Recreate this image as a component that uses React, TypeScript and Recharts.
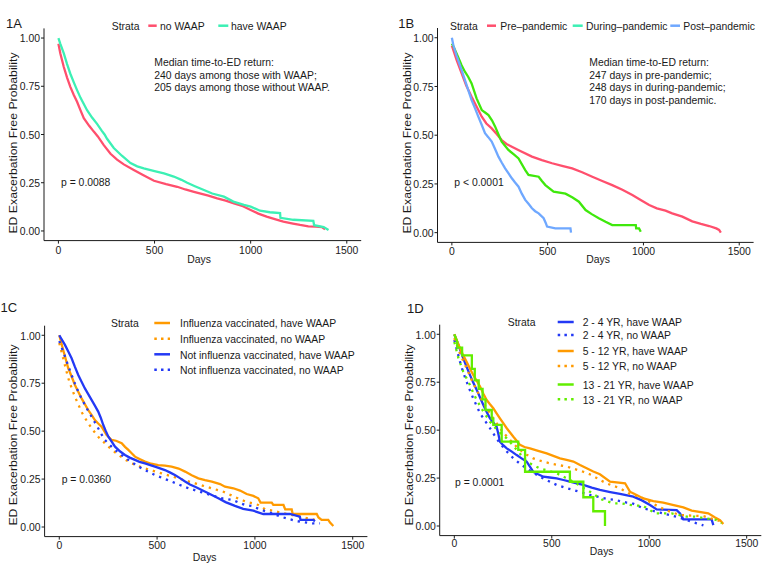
import { Line, LineChart, XAxis, YAxis } from 'recharts';

type Pair = [number, number];

// ---- data: [days, survival probability] ----
// 1A
const aNoWaap: Pair[] = [[0,0.97],[10,0.92],[28,0.85],[45,0.795],[62,0.747],[80,0.705],[97,0.67],[115,0.625],[132,0.585],[160,0.545],[184,0.515],[205,0.49],[236,0.445],[271,0.4],[305,0.37],[340,0.345],[392,0.316],[440,0.29],[497,0.26],[560,0.243],[618,0.229],[660,0.215],[705,0.203],[780,0.183],[826,0.169],[870,0.157],[913,0.143],[960,0.128],[1000,0.109],[1040,0.09],[1083,0.074],[1130,0.06],[1170,0.048],[1220,0.038],[1257,0.031],[1300,0.024],[1340,0.022],[1370,0.02],[1387,0.009]];
const aHaveWaap: Pair[] = [[0,1],[10,0.97],[28,0.92],[45,0.865],[62,0.815],[80,0.77],[97,0.73],[115,0.69],[149,0.626],[175,0.588],[201,0.555],[225,0.52],[240,0.5],[253,0.478],[288,0.43],[330,0.39],[375,0.352],[410,0.335],[444,0.324],[500,0.31],[549,0.298],[600,0.282],[640,0.265],[670,0.25],[710,0.232],[757,0.212],[800,0.194],[861,0.178],[910,0.152],[965,0.135],[1000,0.126],[1049,0.105],[1100,0.097],[1153,0.093],[1155,0.068],[1222,0.058],[1326,0.053],[1330,0.03],[1380,0.02],[1405,0.005]];
// 1B
const bPre: Pair[] = [[0,0.96],[10,0.93],[25,0.885],[51,0.817],[75,0.755],[103,0.697],[130,0.645],[156,0.595],[180,0.56],[208,0.535],[235,0.505],[260,0.475],[285,0.455],[313,0.441],[360,0.418],[418,0.39],[470,0.372],[523,0.356],[575,0.343],[628,0.33],[680,0.31],[733,0.287],[785,0.265],[837,0.244],[890,0.22],[942,0.193],[990,0.165],[1030,0.142],[1070,0.125],[1115,0.113],[1150,0.099],[1203,0.082],[1255,0.058],[1300,0.045],[1343,0.034],[1380,0.022],[1395,0.014],[1404,0]];
const bDuring: Pair[] = [[0,0.97],[5,0.962],[33,0.9],[50,0.86],[68,0.826],[85,0.8],[103,0.766],[129,0.689],[156,0.629],[175,0.615],[191,0.603],[210,0.575],[226,0.544],[245,0.5],[260,0.467],[295,0.424],[325,0.4],[348,0.381],[383,0.321],[400,0.296],[453,0.287],[470,0.265],[488,0.244],[531,0.21],[593,0.2],[630,0.18],[663,0.159],[698,0.116],[730,0.095],[767,0.074],[802,0.056],[837,0.039],[960,0.039],[962,0.022],[977,0.022],[986,0.005]];
const bPost: Pair[] = [[0,1],[8,0.96],[24,0.91],[51,0.834],[77,0.757],[103,0.68],[120,0.64],[138,0.595],[155,0.555],[173,0.51],[190,0.49],[208,0.467],[225,0.43],[243,0.39],[260,0.36],[278,0.33],[295,0.305],[313,0.279],[330,0.257],[348,0.236],[365,0.2],[383,0.168],[400,0.148],[418,0.125],[435,0.11],[453,0.099],[479,0.074],[490,0.05],[497,0.031],[540,0.022],[619,0.022],[622,0]];
// 1C
const cFluHave: Pair[] = [[0,1],[20,0.923],[46,0.828],[63,0.785],[80,0.741],[97,0.705],[114,0.671],[131,0.64],[148,0.61],[165,0.585],[182,0.558],[199,0.54],[216,0.523],[242,0.48],[268,0.454],[290,0.45],[319,0.437],[336,0.418],[353,0.402],[370,0.385],[387,0.367],[410,0.355],[438,0.341],[470,0.33],[506,0.323],[540,0.32],[574,0.315],[610,0.305],[643,0.289],[677,0.27],[711,0.254],[745,0.245],[780,0.237],[822,0.224],[847,0.21],[890,0.202],[924,0.19],[958,0.172],[992,0.162],[1017,0.15],[1029,0.127],[1086,0.127],[1094,0.115],[1146,0.115],[1155,0.092],[1188,0.092],[1193,0.068],[1316,0.068],[1325,0.05],[1341,0.037],[1375,0.037],[1384,0.023],[1401,0.005]];
const cFluNo: Pair[] = [[0,0.96],[20,0.88],[46,0.776],[63,0.725],[80,0.68],[97,0.64],[114,0.6],[131,0.57],[148,0.541],[173,0.505],[199,0.471],[225,0.445],[251,0.419],[276,0.397],[302,0.376],[336,0.352],[370,0.332],[404,0.318],[438,0.306],[480,0.293],[523,0.28],[565,0.267],[608,0.254],[650,0.241],[694,0.228],[736,0.215],[779,0.202],[839,0.184],[880,0.165],[924,0.144],[960,0.13],[992,0.123],[1017,0.115],[1052,0.092],[1094,0.085],[1130,0.075],[1162,0.068],[1220,0.056],[1273,0.045],[1307,0.037],[1330,0.03]];
const cNoFluHave: Pair[] = [[0,1],[29,0.95],[46,0.915],[63,0.88],[80,0.835],[97,0.793],[114,0.758],[131,0.723],[148,0.693],[165,0.663],[182,0.633],[199,0.602],[212,0.57],[225,0.532],[238,0.5],[251,0.471],[268,0.445],[285,0.419],[310,0.395],[336,0.376],[360,0.362],[387,0.35],[410,0.34],[438,0.332],[465,0.323],[489,0.315],[515,0.306],[540,0.297],[565,0.285],[591,0.271],[617,0.255],[643,0.237],[668,0.222],[694,0.21],[728,0.193],[762,0.176],[790,0.162],[813,0.15],[850,0.13],[898,0.11],[940,0.095],[992,0.085],[1043,0.068],[1179,0.068],[1230,0.054],[1233,0.037],[1298,0.037],[1307,0.03]];
const cNoFluNo: Pair[] = [[0,0.97],[29,0.89],[46,0.84],[63,0.793],[80,0.748],[97,0.706],[114,0.67],[131,0.637],[148,0.605],[165,0.576],[182,0.545],[199,0.515],[216,0.483],[233,0.454],[259,0.427],[285,0.402],[320,0.375],[353,0.35],[387,0.327],[421,0.306],[455,0.288],[489,0.271],[531,0.254],[574,0.237],[617,0.219],[660,0.202],[702,0.189],[745,0.176],[787,0.163],[830,0.15],[886,0.141],[949,0.115],[983,0.11],[1030,0.09],[1077,0.075],[1110,0.062],[1145,0.05],[1180,0.04],[1213,0.031],[1250,0.025],[1295,0.019],[1333,0.019]];
// 1D
const d2to4Have: Pair[] = [[0,1],[21,0.944],[46,0.875],[63,0.83],[80,0.788],[97,0.748],[115,0.71],[132,0.67],[149,0.631],[166,0.595],[183,0.562],[200,0.54],[217,0.518],[226,0.48],[234,0.44],[252,0.42],[269,0.405],[295,0.388],[320,0.37],[345,0.353],[371,0.336],[388,0.31],[405,0.283],[430,0.27],[457,0.257],[490,0.253],[525,0.249],[560,0.24],[593,0.231],[628,0.222],[662,0.214],[705,0.2],[747,0.188],[800,0.177],[850,0.167],[918,0.153],[960,0.135],[1004,0.11],[1038,0.087],[1141,0.083],[1158,0.066],[1175,0.035],[1320,0.035],[1329,0.005]];
const d2to4No: Pair[] = [[0,0.97],[29,0.857],[46,0.8],[63,0.753],[80,0.708],[97,0.666],[115,0.625],[132,0.588],[158,0.548],[183,0.51],[208,0.47],[234,0.431],[268,0.39],[303,0.353],[337,0.325],[371,0.3],[405,0.278],[440,0.257],[483,0.235],[525,0.214],[568,0.2],[611,0.188],[653,0.175],[696,0.162],[747,0.15],[782,0.142],[824,0.136],[884,0.122],[910,0.12],[970,0.092],[1004,0.083],[1055,0.07],[1107,0.057],[1150,0.045],[1192,0.031],[1243,0.014],[1278,0.003]];
const d5to12Have: Pair[] = [[0,1],[29,0.927],[46,0.89],[63,0.857],[80,0.822],[97,0.788],[115,0.757],[132,0.727],[149,0.69],[166,0.657],[183,0.635],[200,0.614],[217,0.588],[234,0.562],[252,0.535],[269,0.51],[286,0.488],[303,0.466],[320,0.445],[337,0.423],[360,0.412],[388,0.405],[430,0.392],[474,0.379],[508,0.366],[542,0.353],[576,0.345],[611,0.336],[645,0.318],[679,0.301],[713,0.284],[747,0.27],[799,0.231],[876,0.223],[901,0.179],[935,0.162],[970,0.144],[1021,0.13],[1072,0.122],[1120,0.11],[1175,0.097],[1218,0.08],[1303,0.066],[1338,0.045],[1363,0.031],[1380,0.01]];
const d5to12No: Pair[] = [[0,0.98],[29,0.9],[46,0.86],[63,0.823],[80,0.783],[97,0.744],[115,0.708],[132,0.675],[149,0.643],[166,0.614],[183,0.588],[200,0.562],[217,0.536],[234,0.51],[260,0.478],[286,0.449],[311,0.422],[337,0.397],[371,0.372],[405,0.353],[448,0.338],[491,0.327],[534,0.318],[576,0.31],[619,0.297],[662,0.283],[705,0.266],[747,0.24],[782,0.222],[850,0.197],[901,0.167],[953,0.153],[1004,0.125],[1055,0.097],[1107,0.075],[1158,0.057],[1220,0.054],[1277,0.052],[1346,0.031],[1372,0.023]];
const d13to21Have: Pair[] = [[0,1],[15,0.96],[15,0.93],[40,0.93],[40,0.89],[90,0.89],[90,0.82],[105,0.82],[105,0.76],[125,0.76],[125,0.715],[145,0.715],[145,0.66],[160,0.66],[160,0.605],[192,0.605],[192,0.56],[200,0.56],[200,0.527],[243,0.527],[243,0.44],[328,0.44],[328,0.397],[363,0.397],[363,0.283],[593,0.283],[593,0.231],[662,0.231],[662,0.15],[713,0.15],[713,0.077],[773,0.077],[773,0]];
const d13to21No: Pair[] = [[0,0.96],[21,0.875],[46,0.805],[63,0.77],[80,0.736],[97,0.695],[115,0.657],[132,0.627],[149,0.597],[166,0.57],[183,0.544],[205,0.518],[226,0.492],[248,0.475],[269,0.457],[295,0.427],[320,0.397],[345,0.367],[371,0.336],[405,0.318],[440,0.3],[483,0.288],[525,0.275],[568,0.253],[611,0.231],[653,0.205],[696,0.179],[756,0.139],[816,0.118],[859,0.118],[900,0.11],[970,0.104],[1030,0.066],[1115,0.066],[1192,0.049],[1235,0.049],[1346,0.031],[1372,0.014]];

const dayTicks = [0, 500, 1000, 1500];
const probTicks = [0, 0.25, 0.5, 0.75, 1];

const RED = '#FF4F6D';
const MINT = '#3CF0B4';
const LIME = '#3FE80C';
const SKY = '#6FA8FF';
const ORANGE = '#FF9A00';
const BLUE = '#2339F5';
const LIME_D = '#62EE00';
const INK = '#1a1a1a';
const FONT = '"Liberation Sans", Arial, sans-serif';
const FS = 10.4;
const SY = 1.12;

interface Series { name: string; pairs: Pair[]; color: string; dotted?: boolean }
interface Margin { top: number; right: number; bottom: number; left: number }

const toPts = (pairs: Pair[]) => pairs.map(([t, s]) => ({ t, s }));

function Txt({ x, y, children, size = FS, anchor = 'start', vertical = false, stretch = SY }: {
  x: number; y: number; children: React.ReactNode; size?: number; anchor?: 'start' | 'middle' | 'end'; vertical?: boolean; stretch?: number;
}) {
  const tf = vertical
    ? `translate(${x},${y}) rotate(-90) scale(${stretch},1)`
    : `translate(${x},${y}) scale(1,${stretch})`;
  return (
    <text transform={tf} fontSize={size} textAnchor={anchor} dominantBaseline="central" fill={INK} fontFamily={FONT}>
      {children}
    </text>
  );
}

function KmPanel({ left, top, width, height, margin, series, tickDy }: {
  left: number; top: number; width: number; height: number; margin: Margin; series: Series[]; tickDy: number;
}) {
  return (
    <div style={{ position: 'absolute', left, top }}>
      <LineChart width={width} height={height} margin={margin}>
        <XAxis
          type="number"
          dataKey="t"
          domain={[-75, 1575]}
          ticks={dayTicks}
          interval={0}
          allowDataOverflow
          height={20}
          tickSize={3}
          tickMargin={2}
          axisLine={{ stroke: INK, strokeWidth: 1 }}
          tickLine={{ stroke: INK }}
          tick={(p: any) => (
            <Txt x={p.x} y={p.y + tickDy} anchor="middle">{String(p.payload.value)}</Txt>
          )}
        />
        <YAxis
          type="number"
          domain={[-0.05, 1.05]}
          ticks={probTicks}
          interval={0}
          allowDataOverflow
          width={30}
          tickSize={3}
          tickMargin={1}
          axisLine={{ stroke: INK, strokeWidth: 1 }}
          tickLine={{ stroke: INK }}
          tick={(p: any) => (
            <Txt x={p.x} y={p.y} anchor="end">{Number(p.payload.value).toFixed(2)}</Txt>
          )}
        />
        {series.map((s) => (
          <Line
            key={s.name}
            data={toPts(s.pairs)}
            dataKey="s"
            type="linear"
            stroke={s.color}
            strokeWidth={2.3}
            strokeDasharray={s.dotted ? '2.3 5' : undefined}
            dot={false}
            activeDot={false}
            isAnimationActive={false}
          />
        ))}
      </LineChart>
    </div>
  );
}

function Key({ x1, x2, y, color, dotted }: { x1: number; x2: number; y: number; color: string; dotted?: boolean }) {
  return (
    <line x1={x1} x2={x2} y1={y} y2={y} stroke={color} strokeWidth={2.5} strokeDasharray={dotted ? '2.5 4.2' : undefined} />
  );
}

const legendC = [
  { label: 'Influenza vaccinated, have WAAP', color: ORANGE, dotted: false, y: 323 },
  { label: 'Influenza vaccinated, no WAAP', color: ORANGE, dotted: true, y: 338.7 },
  { label: 'Not influenza vaccinated, have WAAP', color: BLUE, dotted: false, y: 354.3 },
  { label: 'Not influenza vaccinated, no WAAP', color: BLUE, dotted: true, y: 369.7 },
];

const legendD = [
  { label: '2 - 4 YR, have WAAP', color: BLUE, dotted: false, y: 322 },
  { label: '2 - 4 YR, no WAAP', color: BLUE, dotted: true, y: 335 },
  { label: '5 - 12 YR, have WAAP', color: ORANGE, dotted: false, y: 351 },
  { label: '5 - 12 YR, no WAAP', color: ORANGE, dotted: true, y: 366 },
  { label: '13 - 21 YR, have WAAP', color: LIME_D, dotted: false, y: 384.5 },
  { label: '13 - 21 YR, no WAAP', color: LIME_D, dotted: true, y: 399.3 },
];

export default function App() {
  return (
    <div style={{ position: 'absolute', left: 0, top: 0, width: 762, height: 565, background: '#fff', overflow: 'hidden' }}>
      <KmPanel
        left={0} top={0} width={381} height={282}
        margin={{ top: 28.4, right: 19.8, bottom: 21.4, left: 14 }}
        tickDy={4}
        series={[
          { name: 'no WAAP', pairs: aNoWaap, color: RED },
          { name: 'have WAAP', pairs: aHaveWaap, color: MINT },
        ]}
      />
      <KmPanel
        left={381} top={0} width={381} height={282}
        margin={{ top: 28, right: 8.4, bottom: 19.6, left: 26.5 }}
        tickDy={3.6}
        series={[
          { name: 'Pre-pandemic', pairs: bPre, color: RED },
          { name: 'During-pandemic', pairs: bDuring, color: LIME },
          { name: 'Post-pandemic', pairs: bPost, color: SKY },
        ]}
      />
      <KmPanel
        left={0} top={282} width={381} height={283}
        margin={{ top: 43.7, right: 13.6, bottom: 8.4, left: 14.6 }}
        tickDy={2.7}
        series={[
          { name: 'flu have', pairs: cFluHave, color: ORANGE },
          { name: 'flu no', pairs: cFluNo, color: ORANGE, dotted: true },
          { name: 'noflu have', pairs: cNoFluHave, color: BLUE },
          { name: 'noflu no', pairs: cNoFluNo, color: BLUE, dotted: true },
        ]}
      />
      <KmPanel
        left={381} top={282} width={381} height={283}
        margin={{ top: 42.7, right: 0.7, bottom: 9.4, left: 28.7 }}
        tickDy={2.2}
        series={[
          { name: '2-4 have', pairs: d2to4Have, color: BLUE },
          { name: '2-4 no', pairs: d2to4No, color: BLUE, dotted: true },
          { name: '5-12 have', pairs: d5to12Have, color: ORANGE },
          { name: '5-12 no', pairs: d5to12No, color: ORANGE, dotted: true },
          { name: '13-21 have', pairs: d13to21Have, color: LIME_D },
          { name: '13-21 no', pairs: d13to21No, color: LIME_D, dotted: true },
        ]}
      />

      <svg width={762} height={565} style={{ position: 'absolute', left: 0, top: 0, pointerEvents: 'none' }}>
        {/* panel tags */}
        <Txt x={6} y={23.3} size={13} stretch={1.05}>1A</Txt>
        <Txt x={398.3} y={23.3} size={13} stretch={1.05}>1B</Txt>
        <Txt x={0.5} y={307.7} size={13} stretch={1.05}>1C</Txt>
        <Txt x={407} y={308.2} size={13} stretch={1.05}>1D</Txt>

        {/* axis titles */}
        <Txt x={199} y={259.2} anchor="middle">Days</Txt>
        <Txt x={598} y={259.2} anchor="middle">Days</Txt>
        <Txt x={204.7} y={556.5} anchor="middle">Days</Txt>
        <Txt x={601.7} y={550.8} anchor="middle">Days</Txt>
        <Txt x={13.3} y={143} anchor="middle" vertical stretch={1.18}>ED Exacerbation Free Probability</Txt>
        <Txt x={407.5} y={143} anchor="middle" vertical stretch={1.18}>ED Exacerbation Free Probability</Txt>
        <Txt x={13.3} y={435} anchor="middle" vertical stretch={1.18}>ED Exacerbation Free Probability</Txt>
        <Txt x={409.3} y={435} anchor="middle" vertical stretch={1.18}>ED Exacerbation Free Probability</Txt>

        {/* legend 1A */}
        <Txt x={111.7} y={25.7}>Strata</Txt>
        <Key x1={148.3} x2={156.7} y={25.7} color={RED} />
        <Txt x={160} y={25.7}>no WAAP</Txt>
        <Key x1={218.3} x2={228.3} y={25.7} color={MINT} />
        <Txt x={231} y={25.7}>have WAAP</Txt>

        {/* legend 1B */}
        <Txt x={450} y={25.7}>Strata</Txt>
        <Key x1={487} x2={496} y={25.7} color={RED} />
        <Txt x={500.3} y={25.7}>Pre–pandemic</Txt>
        <Key x1={572.7} x2={582.7} y={25.7} color={MINT} />
        <Txt x={586} y={25.7}>During–pandemic</Txt>
        <Key x1={670.3} x2={680} y={25.7} color={SKY} />
        <Txt x={683.3} y={25.7}>Post–pandemic</Txt>

        {/* legend 1C */}
        <Txt x={111} y={323}>Strata</Txt>
        {legendC.map((r) => (
          <g key={r.label}>
            <Key x1={154.3} x2={170} y={r.y} color={r.color} dotted={r.dotted} />
            <Txt x={180} y={r.y}>{r.label}</Txt>
          </g>
        ))}

        {/* legend 1D */}
        <Txt x={507.7} y={322}>Strata</Txt>
        {legendD.map((r) => (
          <g key={r.label}>
            <Key x1={557.7} x2={573.7} y={r.y} color={r.color} dotted={r.dotted} />
            <Txt x={582.7} y={r.y}>{r.label}</Txt>
          </g>
        ))}

        {/* annotations */}
        <Txt x={154.3} y={61.8}>Median time-to-ED return:</Txt>
        <Txt x={154.3} y={74.3}>240 days among those with WAAP;</Txt>
        <Txt x={154.3} y={86.8}>205 days among those without WAAP.</Txt>
        <Txt x={589.3} y={61.8}>Median time-to-ED return:</Txt>
        <Txt x={589.3} y={74.3}>247 days in pre-pandemic;</Txt>
        <Txt x={589.3} y={86.8}>248 days in during-pandemic;</Txt>
        <Txt x={589.3} y={99.3}>170 days in post-pandemic.</Txt>

        <Txt x={61} y={182}>p = 0.0088</Txt>
        <Txt x={454.3} y={182}>p &lt; 0.0001</Txt>
        <Txt x={61.7} y={478.7}>p = 0.0360</Txt>
        <Txt x={455} y={482}>p = 0.0001</Txt>
      </svg>
    </div>
  );
}
